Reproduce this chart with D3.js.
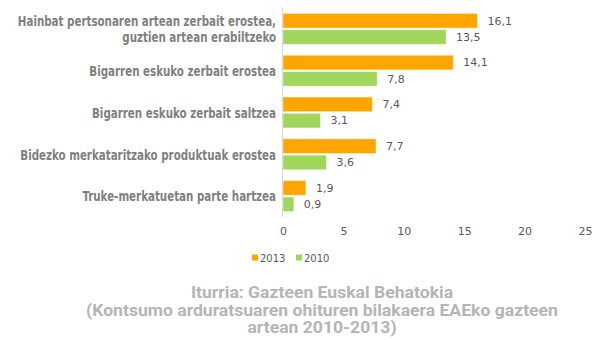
<!DOCTYPE html>
<html>
<head>
<meta charset="utf-8">
<script src="https://cdn.jsdelivr.net/npm/d3@7"></script>
<style>
  html, body { margin: 0; padding: 0; background: #fff; }
  svg { display: block; }
</style>
</head>
<body>
<svg id="chart" width="605" height="340"></svg>
<script>
// Categories (each may span two lines)
const categories = [
  ["Hainbat pertsonaren artean zerbait erostea,", "guztien artean erabiltzeko"],
  ["Bigarren eskuko zerbait erostea"],
  ["Bigarren eskuko zerbait saltzea"],
  ["Bidezko merkataritzako produktuak erostea"],
  ["Truke-merkatuetan parte hartzea"]
];
const seriesNames = ["2013", "2010"];
const values2013 = [16.1, 14.1, 7.4, 7.7, 1.9];
const values2010 = [13.5, 7.8, 3.1, 3.6, 0.9];
const xTicks = [0, 5, 10, 15, 20, 25];
const sourceLines = [
  "Iturria: Gazteen Euskal Behatokia",
  "(Kontsumo arduratsuaren ohituren bilakaera EAEko gazteen",
  "artean 2010-2013)"
];

const colors = { "2013": "#FFA500", "2010": "#A0D65C" };
const seriesValues = { "2013": values2013, "2010": values2010 };

const svg = d3.select("#chart");
const plotLeft = 283, plotRight = 585, plotTop = 8, plotBottom = 217;

const x = d3.scaleLinear().domain([0, 25]).range([plotLeft, plotRight]);
const y = d3.scaleBand().domain(d3.range(categories.length)).range([plotTop, plotBottom]).paddingInner(0.26).paddingOuter(0.13);
const ySub = d3.scaleBand().domain(seriesNames).range([0, y.bandwidth()]).paddingInner(0.1);

const fmt = v => d3.format(".1f")(v).replace(".", ",");

// bars
seriesNames.forEach(s => {
  const g = svg.append("g");
  g.selectAll("rect").data(seriesValues[s]).join("rect")
    .attr("x", x(0))
    .attr("y", (d, i) => y(i) + ySub(s))
    .attr("width", d => x(d) - x(0))
    .attr("height", ySub.bandwidth())
    .attr("fill", colors[s])
    .attr("stroke", "rgba(255,255,255,0.45)")
    .attr("stroke-width", 1);
  g.selectAll("text").data(seriesValues[s]).join("text")
    .attr("x", d => x(d) + 10)
    .attr("y", (d, i) => y(i) + ySub(s) + ySub.bandwidth() / 2)
    .attr("dy", "0.35em")
    .attr("font-family", "DejaVu Sans, Verdana, sans-serif")
    .attr("font-size", 11)
    .attr("fill", "#595959")
    .text(fmt);
});

// vertical axis line
svg.append("line")
  .attr("x1", x(0) - 0.5).attr("x2", x(0) - 0.5)
  .attr("y1", plotTop).attr("y2", plotBottom)
  .attr("stroke", "#d9d9d9").attr("stroke-width", 1);

// x axis ticks (no domain line)
const xAxis = svg.append("g")
  .attr("transform", `translate(0,${plotBottom})`)
  .call(d3.axisBottom(x).tickValues(xTicks).tickSize(0).tickPadding(10));
xAxis.select(".domain").remove();
xAxis.selectAll("text")
  .attr("font-family", "DejaVu Sans, Verdana, sans-serif")
  .attr("font-size", 11)
  .attr("fill", "#595959");

// category labels, set in a narrow bold face
const lineH = 15.5;
categories.forEach((lines, i) => {
  const cy = y(i) + y.bandwidth() / 2;
  const t = svg.append("g")
    .attr("transform", `translate(276,${cy}) scale(0.79,1)`)
    .append("text")
    .attr("text-anchor", "end")
    .attr("font-family", "DejaVu Sans Condensed, DejaVu Sans, sans-serif")
    .attr("font-stretch", "condensed")
    .attr("font-weight", "bold")
    .attr("font-size", 14.5)
    .attr("fill", "#7f7f7f");
  lines.forEach((ln, j) => {
    t.append("tspan")
      .attr("x", 0)
      .attr("y", (j - (lines.length - 1) / 2) * lineH)
      .attr("dy", "0.36em")
      .text(ln);
  });
});

// legend
const legend = svg.append("g").attr("transform", "translate(252,258)");
const lx = d3.scaleOrdinal().domain(seriesNames).range([0, 44]);
seriesNames.forEach(s => {
  legend.append("rect").attr("x", lx(s)).attr("y", -3.5).attr("width", 6).attr("height", 6).attr("fill", colors[s]);
  legend.append("text").attr("x", lx(s) + 8).attr("y", 0).attr("dy", "0.35em")
    .attr("font-family", "DejaVu Sans, Verdana, sans-serif").attr("font-size", 10)
    .attr("fill", "#595959").text(s);
});

// source note
sourceLines.forEach((ln, i) => {
  svg.append("g")
    .attr("transform", `translate(322,${298 + i * 17.7}) scale(1.1,1)`)
    .append("text")
    .attr("text-anchor", "middle")
    .attr("font-family", "Roboto, sans-serif")
    .attr("font-weight", "bold")
    .attr("font-size", 16)
    .attr("fill", "#b5b5b5")
    .text(ln);
});
</script>
</body>
</html>
